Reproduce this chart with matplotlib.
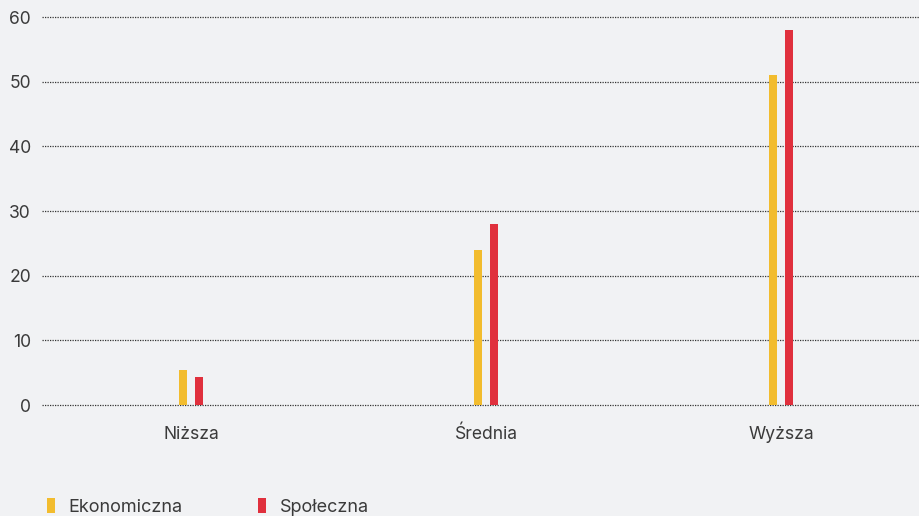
import matplotlib
matplotlib.use("Agg")
import matplotlib.pyplot as plt
from matplotlib.patches import Patch
import numpy as np

categories = ["Niższa", "Średnia", "Wyższa"]
series_names = ["Ekonomiczna", "Społeczna"]
ekonomiczna = [5.4, 24.0, 51.0]
spoleczna = [4.3, 28.0, 58.0]
y_ticks = [0, 10, 20, 30, 40, 50, 60]

colors = ["#F2BC2E", "#E0303D"]
bg = "#F1F2F4"
text_color = "#3a3a3a"

plt.rcParams["font.family"] = ["Inter", "DejaVu Sans"]

fig = plt.figure(figsize=(9.2, 5.16), dpi=100, facecolor=bg)
ax = fig.add_axes([42 / 920, 1 - 405 / 516, 1 - 42 / 920, (405 - 17) / 516])
ax.set_facecolor(bg)

x = np.arange(len(categories))
w = 0.027
off = 0.027
ax.bar(x - off, ekonomiczna, width=w, color=colors[0], zorder=3)
ax.bar(x + off, spoleczna, width=w, color=colors[1], zorder=3)

ax.set_xlim(-0.505, 2.47)
ax.set_ylim(0, 60)
ax.set_yticks(y_ticks)
ax.set_xticks(x)
ax.set_xticklabels(categories)
ax.yaxis.grid(True, linestyle=(0, (1, 1)), color="#333333", linewidth=0.9, zorder=1)
for gl in ax.get_ygridlines():
    gl.set_clip_on(False)
ax.xaxis.grid(False)
for s in ax.spines.values():
    s.set_visible(False)
ax.tick_params(axis="both", length=0, labelsize=12.6, colors=text_color)
ax.tick_params(axis="y", pad=8)
ax.tick_params(axis="x", pad=15)

handles = [Patch(facecolor=c, edgecolor="none") for c in colors]
fig.legend(handles, series_names, loc="lower left", bbox_to_anchor=(31 / 920, -0.031),
           ncol=2, frameon=False, handlelength=0.42, handleheight=0.95,
           handletextpad=0.75, columnspacing=4.2, fontsize=13,
           labelcolor=text_color)

fig.savefig("out.png", dpi=100, facecolor=bg)
